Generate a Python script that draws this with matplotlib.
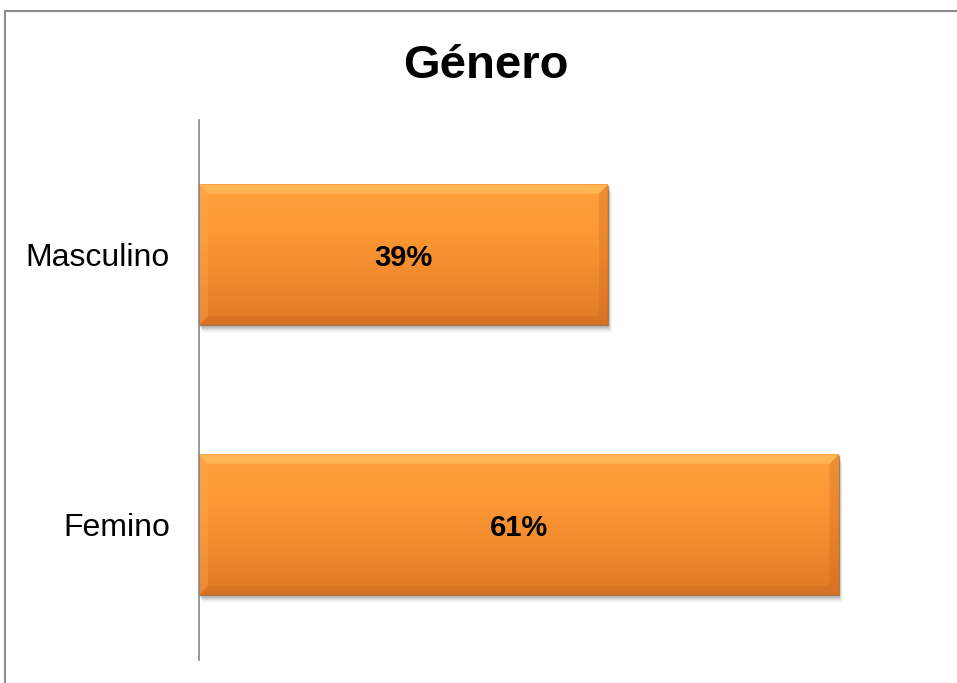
import numpy as np
import matplotlib.pyplot as plt
from matplotlib.patches import Rectangle, Polygon
from matplotlib.colors import LinearSegmentedColormap

plt.rcParams['font.family'] = ['Liberation Sans', 'DejaVu Sans']

categories = ["Femino", "Masculino"]
values = [0.61, 0.39]
value_labels = ["61%", "39%"]
title = "Género"

fig = plt.figure(figsize=(9.57, 6.83), dpi=100)

# outer frame of the chart area
fig.patches.append(Rectangle((5 / 957, -0.1), 1.2, (683 - 11) / 683 + 0.1,
                             transform=fig.transFigure, fill=False,
                             edgecolor="#8c8c8c", linewidth=1.5))

ax = fig.add_axes([199 / 957, 23 / 683, 734 / 957, 540 / 683])
ax.set_xlim(0, 0.7)
ax.set_ylim(-0.5, 1.5)

bar_h = 0.52
bars = ax.barh(range(len(categories)), values, height=bar_h,
               color="#fb9533", edgecolor="none", zorder=2)

orange = LinearSegmentedColormap.from_list(
    "bar_orange", ["#ffa03c", "#fd9834", "#f08a2e", "#e07826"])

# pixel size of one data unit, used for bevel and shadow thickness
px_x = 734 / 0.7
px_y = 270.0

for rect in bars:
    x0, y0 = rect.get_x(), rect.get_y()
    w, h = rect.get_width(), rect.get_height()
    x1, y1 = x0 + w, y0 + h

    # soft drop shadow
    for k, a in zip(range(1, 7), [0.10, 0.09, 0.07, 0.05, 0.035, 0.02]):
        dx, dy = (1 + k) / px_x, (2 + k) / px_y
        ax.add_patch(Rectangle((x0 + dx * 0.6, y0 - dy), w, h,
                               facecolor="#404040", alpha=a,
                               edgecolor="none", zorder=1))

    # vertical gradient fill (light on top, darker at bottom)
    grad = np.linspace(0, 1, 256).reshape(-1, 1)
    ax.imshow(grad, cmap=orange, aspect="auto", extent=(x0, x1, y0, y1),
              origin="upper", zorder=3, interpolation="bicubic")

    # bevel edges
    bx, by = 9 / px_x, 9 / px_y
    top = Polygon([(x0, y1), (x1, y1), (x1 - bx, y1 - by), (x0 + bx, y1 - by)],
                  facecolor="#ffc869", edgecolor="none", alpha=0.55, zorder=4)
    bottom = Polygon([(x0, y0), (x1, y0), (x1 - bx, y0 + by), (x0 + bx, y0 + by)],
                     facecolor="#c8661e", edgecolor="none", alpha=0.35, zorder=4)
    right = Polygon([(x1, y0), (x1, y1), (x1 - bx, y1 - by), (x1 - bx, y0 + by)],
                    facecolor="#c8661e", edgecolor="none", alpha=0.3, zorder=4)
    left = Polygon([(x0, y0), (x0, y1), (x0 + bx, y1 - by), (x0 + bx, y0 + by)],
                   facecolor="#ffb050", edgecolor="none", alpha=0.3, zorder=4)
    for p in (top, bottom, right, left):
        ax.add_patch(p)
    ax.plot([x0, x1, x1], [y0, y0, y1], color="#8a4f16", linewidth=1.0,
            alpha=0.6, zorder=5, solid_capstyle="butt")

for i, (v, lab) in enumerate(zip(values, value_labels)):
    ax.text(v / 2, i - 0.012, lab, ha="center", va="center", fontsize=21,
            fontweight="bold", color="black", zorder=6)

ax.set_yticks(range(len(categories)))
ax.set_yticklabels(categories, fontsize=23)
ax.tick_params(axis="y", length=0, pad=21)
ax.set_xticks([])
for side in ("top", "right", "bottom"):
    ax.spines[side].set_visible(False)
ax.spines["left"].set_color("#868686")
ax.spines["left"].set_linewidth(1.2)
ax.spines["left"].set_zorder(7)

fig.text(486 / 957, 1 - 66 / 683, title, ha="center", va="center",
         fontsize=34, fontweight="bold")

fig.savefig("out.png", dpi=100)
